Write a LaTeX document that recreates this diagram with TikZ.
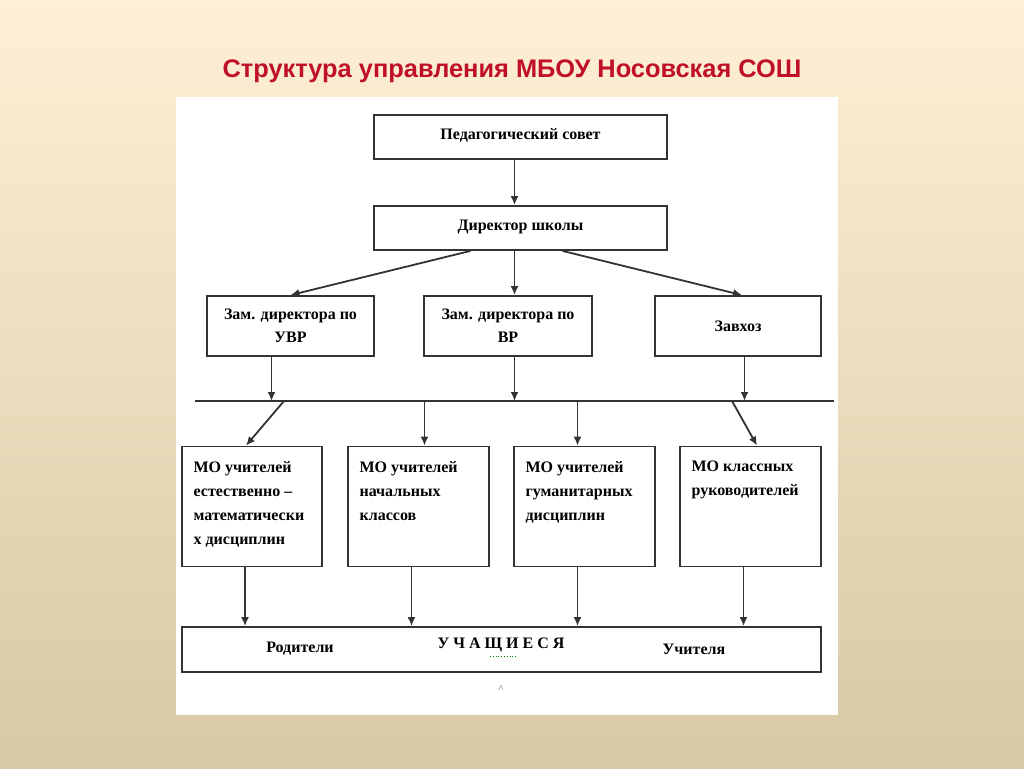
\documentclass[tikz,border=0pt]{standalone}
\usepackage{fontspec}
\setmainfont{Liberation Serif}
\newfontfamily\titlefont{Liberation Sans}
\usepackage{xcolor}
\usetikzlibrary{calc,arrows.meta}
\definecolor{titlered}{RGB}{192,16,40}
\definecolor{bgtop}{HTML}{FFEFD5}
\definecolor{bgmid}{HTML}{F2E8D2}
\definecolor{bgbot}{HTML}{D6C9A4}

\begin{document}
\begin{tikzpicture}[x=1pt, y=-1pt,
    box/.style={draw=black!80, line width=1.8pt, fill=white, inner sep=0pt},
    boxtext/.style={font=\fontsize{16}{23}\selectfont\bfseries, align=center},
    motext/.style={font=\fontsize{16}{24}\selectfont\bfseries, align=left, anchor=north west},
    link/.style={draw=black!80, line width=1.8pt, -{Latex[length=9pt,width=8pt]}}]
            \useasboundingbox (0,0) rectangle (1024,768);
            \shade[top color=bgtop, middle color=bgmid, bottom color=bgbot] (0,0) rectangle (1024,768);
            \node (title) at (512,71) [font=\titlefont\fontsize{25.4}{30}\selectfont\bfseries, text=titlered]{Структура управления МБОУ Носовская СОШ};
            \fill[white] (176,97) rectangle (838,715);
            % top of the scheme
            \node (council) at (520.5,137) [box, minimum width=293pt, minimum height=44pt]{};
            \node at (council)[boxtext, yshift=2pt]{Педагогический совет};
            \node (director) at (520.5,228) [box, minimum width=293pt, minimum height=44pt]{};
            \node at (director)[boxtext, yshift=1pt]{Директор школы};
            \node (uvr) at (290.5,326) [box, minimum width=167pt, minimum height=60pt]{};
            \node at (uvr)[boxtext]{Зам. директора по\\УВР};
            \node (vr) at (508,326) [box, minimum width=168pt, minimum height=60pt]{};
            \node at (vr)[boxtext]{Зам. директора по\\ВР};
            \node (zavhoz) at (738,326) [box, minimum width=166pt, minimum height=60pt]{};
            \node at (zavhoz)[boxtext]{Завхоз};
            \draw[link] ([xshift=-6pt]council.south) -- ([xshift=-6pt]director.north);
            \draw[link] ([xshift=-50pt]director.south) -- (uvr.north);
            \draw[link] ([xshift=-6pt]director.south) -- ([xshift=6.5pt]vr.north);
            \draw[link] ([xshift=42pt]director.south) -- ([xshift=4pt]zavhoz.north);
            % line between the two rows
            \coordinate (busL) at (195,401);
            \coordinate (busR) at (834,401);
            \draw[draw=black!80, line width=1.8pt] (busL) -- (busR);
            \draw[link] ([xshift=-19pt]uvr.south) -- ([xshift=-19pt]uvr.south |- busL);
            \draw[link] ([xshift=6.5pt]vr.south) -- ([xshift=6.5pt]vr.south |- busL);
            \draw[link] ([xshift=6.5pt]zavhoz.south) -- ([xshift=6.5pt]zavhoz.south |- busL);
            % methodical unions
            \node (mo1) at (252,506.5) [box, minimum width=140pt, minimum height=120pt]{};
            \node at ([xshift=9pt, yshift=-12pt]mo1.north west)[motext]{МО учителей\\естественно --\\математически\\х дисциплин};
            \node (mo2) at (418.5,506.5) [box, minimum width=141pt, minimum height=120pt]{};
            \node at ([xshift=9pt, yshift=-12pt]mo2.north west)[motext]{МО учителей\\начальных\\классов};
            \node (mo3) at (584.5,506.5) [box, minimum width=141pt, minimum height=120pt]{};
            \node at ([xshift=9pt, yshift=-12pt]mo3.north west)[motext]{МО учителей\\гуманитарных\\дисциплин};
            \node (mo4) at (750.5,506.5) [box, minimum width=141pt, minimum height=120pt]{};
            \node at ([xshift=9pt, yshift=-12pt]mo4.north west)[motext]{МО классных\\руководителей};
            \draw[link] ([xshift=32pt]mo1.north |- busL) -- ([xshift=-6pt]mo1.north);
            \draw[link] ([xshift=6pt]mo2.north |- busL) -- ([xshift=6pt]mo2.north);
            \draw[link] ([xshift=-7pt]mo3.north |- busL) -- ([xshift=-7pt]mo3.north);
            \draw[link] ([xshift=-18.5pt]mo4.north |- busL) -- ([xshift=6.5pt]mo4.north);
            % bottom row
            \node (pupils) at (501.5,649.5) [box, minimum width=639pt, minimum height=45pt]{};
            \node (parents) at (300,649)[font=\fontsize{16}{20}\selectfont\bfseries]{Родители};
            \node (pupilstext) at (501,645)[font=\fontsize{16}{20}\selectfont\bfseries]{У Ч А Щ И Е С Я};
            \node (teachers) at (694,649)[font=\fontsize{16}{20}\selectfont\bfseries]{Учителя};
            \draw[green!50!black, dotted, line width=0.8pt] (490,656) -- (517,656);
            \node (caret) at (501,689)[font=\fontsize{11}{11}\selectfont, text=black!60]{\textasciicircum};
            \foreach \m in {mo1, mo2, mo3, mo4}
                \draw[link] ([xshift=-7pt]\m.south) -- ([xshift=-7pt]\m.south |- pupils.north);
        \end{tikzpicture}
\end{document}
